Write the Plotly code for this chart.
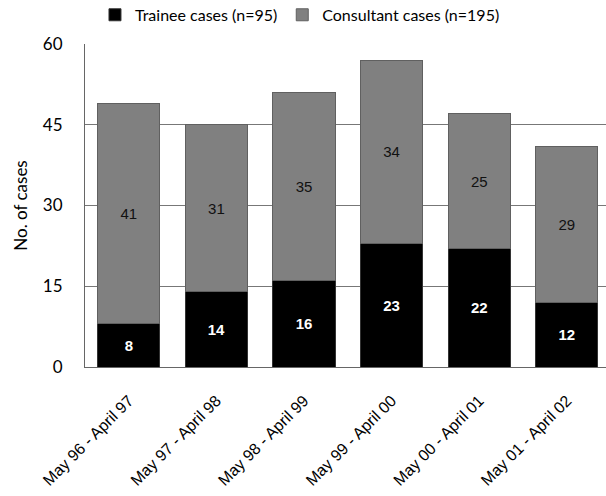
import plotly.graph_objects as go

periods = ["May 96 - April 97", "May 97 - April 98", "May 98 - April 99",
           "May 99 - April 00", "May 00 - April 01", "May 01 - April 02"]
trainee = [8, 14, 16, 23, 22, 12]
consultant = [41, 31, 35, 34, 25, 29]
y_ticks = [0, 15, 30, 45, 60]

TITLE_FONT = "Lato, 'Noto Sans', sans-serif"
LABEL_FONT = "'Liberation Sans', Arial, sans-serif"

fig = go.Figure()
fig.add_trace(go.Bar(
    x=periods, y=trainee, name="Trainee cases (n=95)",
    marker=dict(color="#000000", line=dict(color="#333333", width=1)),
    width=0.71,
    text=trainee, textposition="inside", insidetextanchor="middle",
    textfont=dict(family=LABEL_FONT, size=15, color="white", weight="bold"),
    textangle=0,
))
fig.add_trace(go.Bar(
    x=periods, y=consultant, name="Consultant cases (n=195)",
    marker=dict(color="#808080", line=dict(color="#606060", width=1)),
    width=0.71,
    text=consultant, textposition="inside", insidetextanchor="middle",
    textfont=dict(family=LABEL_FONT, size=15, color="#111111"),
    textangle=0,
))

fig.update_layout(
    barmode="stack",
    width=606, height=496,
    margin=dict(l=85, r=0, t=44, b=129),
    paper_bgcolor="white", plot_bgcolor="white",
    legend=dict(
        orientation="h", xref="container", yref="container",
        x=0.495, xanchor="center", y=0.97, yanchor="middle",
        font=dict(family=TITLE_FONT, size=16, color="#000000"),
        itemwidth=30, traceorder="normal",
    ),
    xaxis=dict(
        range=[-0.5, 5.447], automargin=False,
        tickangle=-45,
        tickfont=dict(family=LABEL_FONT, size=16, color="#000000"),
        showline=True, linecolor="#666666", linewidth=1,
        showgrid=False, ticks="", ticklabelstandoff=17,
    ),
    yaxis=dict(
        range=[0, 60], tickvals=y_ticks, automargin=False,
        tickfont=dict(family=TITLE_FONT, size=17, color="#000000"),
        showline=True, linecolor="#666666", linewidth=1,
        showgrid=True, gridcolor="#777777", gridwidth=1,
        zeroline=False, ticks="", ticklabelstandoff=18,
        title=dict(text="No. of cases", standoff=10,
                   font=dict(family=TITLE_FONT, size=17, color="#000000")),
    ),
)

fig.write_html("out.html")
